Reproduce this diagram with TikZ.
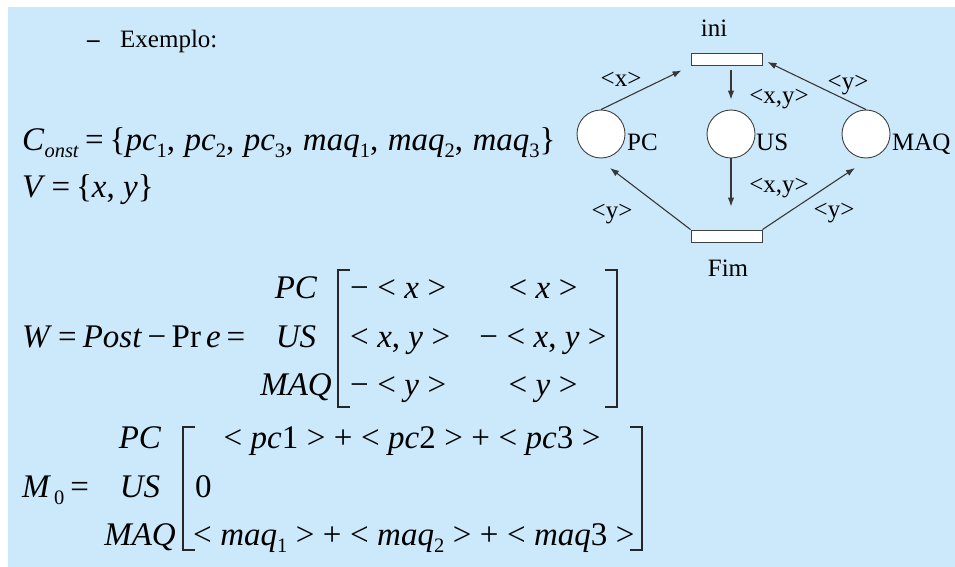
\documentclass[tikz,border=0pt]{standalone}
\usepackage{fontspec}
\setmainfont{Liberation Serif}
\usetikzlibrary{arrows.meta}
\definecolor{bgblue}{RGB}{204,233,251}
\definecolor{arrgray}{RGB}{55,55,55}
\newcommand\fbig{\fontsize{33}{39}\selectfont}
\newcommand\fsub{\fontsize{20.5}{24}\selectfont}
\newcommand\fnet{\fontsize{25}{30}\selectfont}
\newcommand\sbs[1]{\raisebox{-7.5pt}{\fsub #1}}
\newcommand\ti[1]{\textit{#1}}
\newcommand\rs{\hspace{6pt}}
\newcommand\gs{\hspace{8.5pt}}
\newcommand\cs{,\hspace{9.5pt}}
\begin{document}
\begin{tikzpicture}[x=1pt,y=-1pt,
  txt/.style={inner sep=0pt, anchor=base west, font=\fbig},
  ctxt/.style={inner sep=0pt, anchor=base, font=\fbig},
  netlbl/.style={inner sep=0pt, anchor=base, font=\fnet},
  place/.style={circle, minimum size=48pt, inner sep=0pt, draw=black!75, line width=0.9pt, fill=white},
  trans/.style={rectangle, minimum width=71pt, minimum height=12pt, inner sep=0pt, draw=black!75, line width=0.9pt, fill=white},
  arc/.style={draw=arrgray, line width=1.1pt, -{Latex[length=9pt,width=6.5pt]}},
  brk/.style={draw=black!85, line width=1.4pt}]
\useasboundingbox (0,0) rectangle (955,567);
\fill[bgblue] (8,7) rectangle (955,567);

% heading
\node[txt, font=\fnet] (dash) at (87,48) {\textbf{–}};
\node[txt, font=\fnet] (ex) at (120,48) {Exemplo:};

% constants and variables
\node[txt] (const) at (22,150) {\ti{C}\sbs{\ti{onst}}\rs=\rs\{\ti{pc}\sbs{1}\cs\ti{pc}\sbs{2}\cs\ti{pc}\sbs{3}\cs\ti{maq}\sbs{1}\cs\ti{maq}\sbs{2}\cs\ti{maq}\sbs{3}\}};
\node[txt] (vars) at (22,197) {\ti{V}\rs=\rs\{\ti{x}, \ti{y}\}};

% W matrix
\node[txt] (weq) at (22,347) {\ti{W}\rs=\rs\ti{Post}\,−\,Pr\hspace{5pt}\ti{e}\rs=};
\node[ctxt] (wpc) at (296,298) {\ti{PC}};
\node[ctxt] (wus) at (296,347) {\ti{US}};
\node[ctxt] (wmaq) at (296,395) {\ti{MAQ}};
\draw[brk] (350,270) -- (338,270) -- (338,407) -- (350,407);
\draw[brk] (605,270) -- (617,270) -- (617,407) -- (605,407);
\node[txt] (w11) at (350,298) {−\gs<\gs\ti{x}\gs>};
\node[txt] (w21) at (350,347) {<\gs\ti{x}, \ti{y}\gs>};
\node[txt] (w31) at (350,395) {−\gs<\gs\ti{y}\gs>};
\node[ctxt] (w12) at (543,298) {<\gs\ti{x}\gs>};
\node[ctxt] (w22) at (543,347) {−\gs<\gs\ti{x}, \ti{y}\gs>};
\node[ctxt] (w32) at (543,395) {<\gs\ti{y}\gs>};

% M0 matrix
\node[txt] (meq) at (22,497) {\ti{M}\hspace{3pt}\sbs{0}\rs=};
\node[ctxt] (mpc) at (140,448) {\ti{PC}};
\node[ctxt] (mus) at (140,497) {\ti{US}};
\node[ctxt] (mmaq) at (140,545) {\ti{MAQ}};
\draw[brk] (195,427) -- (183,427) -- (183,550) -- (195,550);
\draw[brk] (630,427) -- (642,427) -- (642,550) -- (630,550);
\node[ctxt] (m1) at (412,448) {<\gs\ti{pc}1\gs>\gs+\gs<\gs\ti{pc}2\gs>\gs+\gs<\gs\ti{pc}3\gs>};
\node[txt] (m2) at (195,497) {0};
\node[txt] (m3) at (193,545) {<\gs\ti{maq}\sbs{1}\gs>\gs+\gs<\gs\ti{maq}\sbs{2}\gs>\gs+\gs<\gs\ti{maq}3\gs>};

% Petri net
\node[place] (pc) at (601,134) {};
\node[place] (us) at (731,134) {};
\node[place] (maq) at (866,134) {};
\node[trans] (ini) at (726.5,59) {};
\node[trans] (fim) at (726.5,236) {};

\node[netlbl] (tini) at (714,37) {ini};
\node[netlbl] (tfim) at (728,276) {Fim};
\node[netlbl, anchor=base west] (tpc) at (627,150) {PC};
\node[netlbl, anchor=base west] (tus) at (756,150) {US};
\node[netlbl, anchor=base west] (tmaq) at (892,150) {MAQ};

\draw[arc] (pc.north) -- ([xshift=-9pt,yshift=-5pt]ini.south west);
\draw[arc, shorten <=5pt, shorten >=10pt] (ini.south -| us.north) -- (us.north);
\draw[arc] (maq.north) -- ([xshift=5pt,yshift=-3pt]ini.east);
\draw[arc, shorten >=23pt] (us.south) -- (fim.north -| us.south);
\draw[arc] (fim.north west) -- ([xshift=9pt,yshift=-34pt]pc.center);
\draw[arc] (fim.north east) -- ([xshift=-11pt,yshift=-34pt]maq.center);

\node[netlbl] (l1) at (621,87) {<x>};
\node[netlbl] (l2) at (779,104) {<x,y>};
\node[netlbl] (l3) at (848,90) {<y>};
\node[netlbl] (l4) at (779,192) {<x,y>};
\node[netlbl] (l5) at (612,218) {<y>};
\node[netlbl] (l6) at (834,217) {<y>};
\end{tikzpicture}
\end{document}
